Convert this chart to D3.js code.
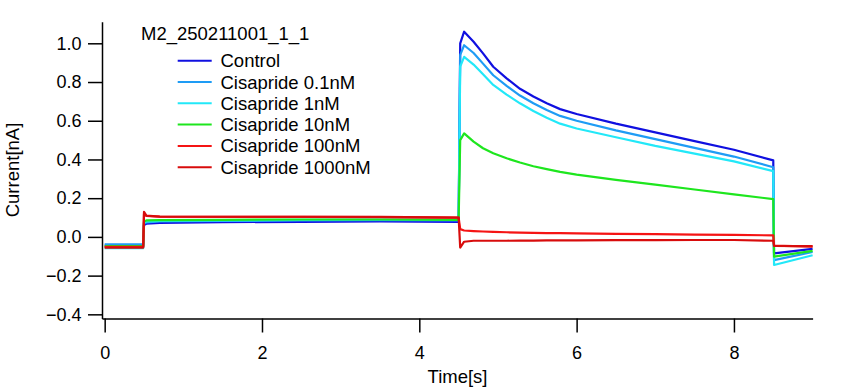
<!DOCTYPE html>
<html>
<head>
<meta charset="utf-8">
<script src="https://cdn.jsdelivr.net/npm/d3@7"></script>
<style>
  body { margin: 0; background: #fff; }
  svg { display: block; font-family: "Liberation Sans", Arial, sans-serif; }
  .axis path, .axis line { stroke: #000; stroke-width: 1.5; }
  .axis text { fill: #000; font-size: 18px; font-family: "Liberation Sans", Arial, sans-serif; }
</style>
</head>
<body>
<div id="chart"></div>
<script>
// sample times (s), shared by every trace
const timeS = [0, 0.49, 0.5, 0.53, 0.7, 1.5, 2.5, 3.5, 4.5, 4.52, 4.57, 4.69, 4.81,
  4.94, 5.11, 5.28, 5.45, 5.62, 5.79, 6.0, 6.5, 7.0, 7.5, 8.0, 8.5, 8.51, 9.0];

// current (nA)
const control = [-0.045, -0.045, 0.062, 0.068, 0.072, 0.076, 0.078, 0.08, 0.078, 1.0, 1.06,
  1.008, 0.948, 0.879, 0.819, 0.765, 0.725, 0.69, 0.66, 0.635, 0.585, 0.54, 0.495, 0.45,
  0.395, -0.085, -0.062];
const cis01 = [-0.038, -0.038, 0.07, 0.075, 0.08, 0.082, 0.085, 0.087, 0.085, 0.94, 0.99,
  0.95, 0.895, 0.835, 0.78, 0.73, 0.69, 0.655, 0.625, 0.6, 0.55, 0.505, 0.46, 0.415,
  0.36, -0.12, -0.078];
const cis1 = [-0.058, -0.058, 0.075, 0.08, 0.083, 0.085, 0.088, 0.09, 0.088, 0.88, 0.93,
  0.89, 0.84, 0.785, 0.735, 0.69, 0.65, 0.615, 0.585, 0.56, 0.515, 0.47, 0.43, 0.39,
  0.34, -0.145, -0.095];
const cis10 = [-0.048, -0.048, 0.08, 0.085, 0.087, 0.088, 0.09, 0.09, 0.088, 0.5, 0.535,
  0.492, 0.458, 0.432, 0.406, 0.384, 0.365, 0.35, 0.336, 0.322, 0.295, 0.27, 0.245, 0.22,
  0.195, -0.102, -0.072];
const cis100 = [-0.052, -0.052, 0.12, 0.108, 0.105, 0.103, 0.103, 0.102, 0.1, 0.04, 0.033,
  0.03, 0.028, 0.026, 0.024, 0.022, 0.021, 0.02, 0.019, 0.018, 0.016, 0.014, 0.012, 0.01,
  0.008, -0.045, -0.05];
const cis1000 = [-0.055, -0.055, 0.13, 0.11, 0.105, 0.104, 0.104, 0.103, 0.1, -0.055, -0.025,
  -0.02, -0.02, -0.02, -0.02, -0.019, -0.019, -0.018, -0.018, -0.018, -0.017, -0.017, -0.016,
  -0.016, -0.02, -0.046, -0.048];

const seriesNames = ["Control", "Cisapride 0.1nM", "Cisapride 1nM", "Cisapride 10nM",
  "Cisapride 100nM", "Cisapride 1000nM"];
const seriesValues = [control, cis01, cis1, cis10, cis100, cis1000];
const seriesColors = ["#1010e0", "#1e9cf5", "#22e8f8", "#1ee61e", "#f51414", "#d80c0c"];

const xTicks = [0, 2, 4, 6, 8];
const yTicks = [-0.4, -0.2, 0.0, 0.2, 0.4, 0.6, 0.8, 1.0];
const title = "M2_250211001_1_1";

const W = 857, H = 387;

const svg = d3.select("#chart").append("svg").attr("width", W).attr("height", H);

const x = d3.scaleLinear().domain([-0.034, 9.0]).range([102, 812.6]);
const y = d3.scaleLinear().domain([-0.4215, 1.1116]).range([318.5, 21.7]);

// axes
svg.append("g")
  .attr("class", "axis")
  .attr("transform", "translate(0,318.5)")
  .call(d3.axisBottom(x).tickValues(xTicks).tickFormat(d3.format("d"))
    .tickSize(14).tickSizeOuter(0).tickPadding(14));

svg.append("g")
  .attr("class", "axis")
  .attr("transform", "translate(102,0)")
  .call(d3.axisLeft(y).tickValues(yTicks).tickFormat(d3.format(".1f"))
    .tickSize(14).tickSizeOuter(0).tickPadding(6.5));

svg.append("text")
  .attr("x", 457.5)
  .attr("y", 383)
  .attr("text-anchor", "middle")
  .attr("font-size", 18.5)
  .text("Time[s]");

svg.append("text")
  .attr("transform", "translate(18.5,170) rotate(-90)")
  .attr("text-anchor", "middle")
  .attr("font-size", 18.5)
  .text("Current[nA]");

// traces, control first so the reds end up on top
const line = d3.line()
  .x((d) => x(d[0]))
  .y((d) => y(d[1]));

svg.append("g")
  .selectAll("path")
  .data(seriesValues)
  .join("path")
  .attr("fill", "none")
  .attr("stroke", (d, i) => seriesColors[i])
  .attr("stroke-width", 2.2)
  .attr("stroke-linejoin", "round")
  .attr("d", (vals) => line(timeS.map((t, i) => [t, vals[i]])));

// legend
svg.append("text")
  .attr("x", 141)
  .attr("y", 39.5)
  .attr("font-size", 18.5)
  .text(title);

const legend = svg.append("g")
  .selectAll("g")
  .data(seriesNames)
  .join("g")
  .attr("transform", (d, i) => `translate(0,${60.7 + i * 21.3})`);

legend.append("line")
  .attr("x1", 177.7)
  .attr("x2", 211.7)
  .attr("stroke", (d, i) => seriesColors[i])
  .attr("stroke-width", 2);

legend.append("text")
  .attr("x", 220.5)
  .attr("y", 6.5)
  .attr("font-size", 18.5)
  .text((d) => d);
</script>
</body>
</html>
